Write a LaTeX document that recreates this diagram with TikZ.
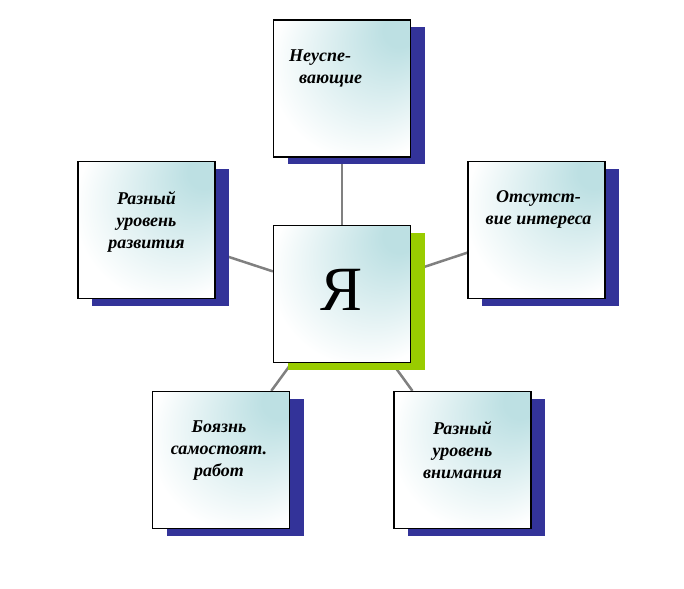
\documentclass[tikz,border=0pt]{standalone}
\usepackage{fontspec}
\setmainfont{Liberation Serif}
\usepackage{tikz}
\usetikzlibrary{positioning,shadows,backgrounds}
\definecolor{boxteal}{RGB}{189,224,227}
\definecolor{shadowblue}{RGB}{51,51,153}
\definecolor{shadowgreen}{RGB}{153,204,0}
\pgfdeclareradialshading{glare}{\pgfpoint{24bp}{24bp}}{color(0bp)=(boxteal); color(6bp)=(boxteal); color(34bp)=(white); color(50bp)=(white)}

\begin{document}
\begin{tikzpicture}[x=1pt,y=-1pt,
        box/.style={shape=rectangle,draw=black,line width=1.2pt,minimum width=137pt,minimum height=137pt,inner sep=0pt,shade,shading=glare},
        blueshadow/.style={drop shadow={shadow xshift=14pt,shadow yshift=-7pt,fill=shadowblue,opacity=1}},
        greenshadow/.style={drop shadow={shadow xshift=14pt,shadow yshift=-7pt,fill=shadowgreen,opacity=1}},
        link/.style={draw=gray,line width=2.5pt},
        txt/.style={align=center,inner sep=0pt,font=\fontsize{18}{22}\selectfont\bfseries\itshape}]
        \useasboundingbox (0,0) rectangle (684,588);

        \node (ya) at (342,294) [box,greenshadow] {};
        \node (b0) at (342,88.5) [box,blueshadow] {};
        \node (b1) at (146.5,230) [box,blueshadow] {};
        \node (b2) at (536.5,230) [box,blueshadow] {};
        \node (b3) at (221,460) [box,blueshadow] {};
        \node (b4) at (462.5,460) [box,blueshadow] {};

        \node (yatxt) at (342,310) [anchor=base,inner sep=0pt,font=\fontsize{63}{63}\selectfont] {Я};
        \node (t0) [txt,align=left,anchor=north west,below right=30pt and 16pt of b0.north west] {Неуспе-\\\hspace*{10pt}вающие};
        \node (t1) [txt,below=30pt of b1.north] {Разный\\уровень\\развития};
        \node (t2) [txt,below=29pt of b2.north,xshift=2pt] {Отсутст-\\вие интереса};
        \node (t3) [txt,below=30pt of b3.north,xshift=-2pt] {Боязнь\\самостоят.\\работ};
        \node (t4) [txt,below=30pt of b4.north] {Разный\\уровень\\внимания};

        \begin{scope}[on background layer]
        \draw[link] (ya) -- (b0);
        \draw[link] (ya) -- (b1);
        \draw[link] (ya) -- (b2);
        \draw[link] (ya) -- (b3);
        \draw[link] (ya) -- (b4);
        \end{scope}
    \end{tikzpicture}
\end{document}
